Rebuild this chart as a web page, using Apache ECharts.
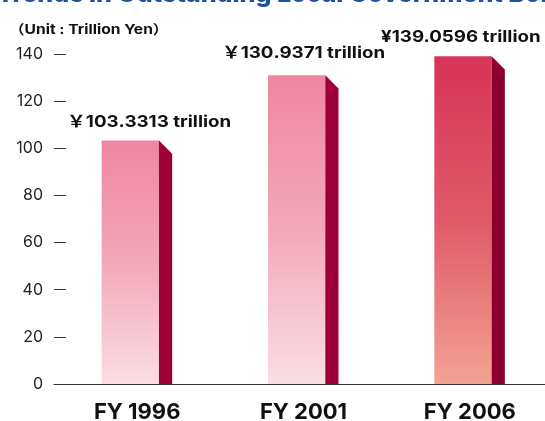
<!DOCTYPE html>
<html>
<head>
<meta charset="utf-8">
<script src="https://cdn.jsdelivr.net/npm/echarts@6/dist/echarts.min.js"></script>
<style>
  html, body { margin: 0; padding: 0; background: #fff; }
  #chart { width: 545px; height: 421px; }
</style>
</head>
<body>
<div id="chart"></div>
<script>
// 地方債残高の推移
var categories = ['FY 1996', 'FY 2001', 'FY 2006']
var values = [103.3313, 130.9371, 139.0596]
var yenSigns = ['￥', '￥', '¥']
var yTicks = [0, 20, 40, 60, 80, 100, 120, 140]
var titleText = 'Trends in Outstanding Local Government Bonds'
var unitText = '（Unit : Trillion Yen）'

var FONT = "Inter, 'Noto Sans CJK JP', sans-serif"

// bar look: front gradient + dark side face
var barStyles = [
  { top: '#ee86a1', mid: '#f3a8ba', bottom: '#fadde4', side: '#9c0036' },
  { top: '#ee86a1', mid: '#f3a8ba', bottom: '#fadde4', side: '#9c0036' },
  { top: '#d73459', mid: '#e05a68', bottom: '#f2a293', side: '#8c002f' }
]
// label centre offset from bar centre / bar top
var labelDx = [12, 0, -9]
var labelDy = [18, 22, 19]

var chart = echarts.init(document.getElementById('chart'))

var option = {
  animation: false,
  grid: {
    left: 54,
    top: 54,
    width: 499,
    height: 330,
    outerBoundsMode: 'none'
  },
  xAxis: {
    type: 'category',
    data: categories,
    axisLine: { lineStyle: { color: '#333', width: 1 } },
    axisTick: { inside: true, length: 8, lineStyle: { color: '#333' } },
    axisLabel: {
      margin: 17,
      fontSize: 22,
      fontWeight: 'bold',
      color: '#111',
      fontFamily: FONT
    }
  },
  yAxis: {
    type: 'value',
    min: yTicks[0],
    max: yTicks[yTicks.length - 1],
    interval: 20,
    splitLine: { show: false },
    axisLine: { show: false },
    axisTick: { show: true, inside: true, length: 12, lineStyle: { color: '#333' } },
    axisLabel: {
      margin: 11,
      fontSize: 16,
      color: '#222',
      fontFamily: FONT
    }
  },
  graphic: [
    {
      type: 'text',
      left: -3,
      top: -18,
      style: {
        text: titleText,
        font: '800 25px ' + FONT,
        fill: '#1b50a3'
      }
    },
    {
      type: 'text',
      x: 9,
      y: 30,
      scaleX: 1.2,
      style: {
        text: unitText,
        font: 'bold 13px ' + FONT,
        fill: '#111',
        verticalAlign: 'middle'
      }
    }
  ],
  series: [
    {
      type: 'custom',
      data: values.map(function (v, i) { return [i, v] }),
      renderItem: function (params, api) {
        var i = params.dataIndex
        var top = api.coord([api.value(0), api.value(1)])
        var base = api.coord([api.value(0), 0])
        var cx = top[0]
        var fl = cx - 35.5
        var fw = 57.3
        var sw = 13.2
        var st = barStyles[i]
        return {
          type: 'group',
          children: [
            {
              type: 'rect',
              shape: { x: fl, y: top[1], width: fw, height: base[1] - top[1] },
              style: {
                fill: new echarts.graphic.LinearGradient(0, 0, 0, 1, [
                  { offset: 0, color: st.top },
                  { offset: 0.5, color: st.mid },
                  { offset: 1, color: st.bottom }
                ])
              }
            },
            {
              type: 'polygon',
              shape: {
                points: [
                  [fl + fw, top[1]],
                  [fl + fw + sw, top[1] + sw],
                  [fl + fw + sw, base[1]],
                  [fl + fw, base[1]]
                ]
              },
              style: { fill: st.side }
            },
            {
              type: 'text',
              x: cx + labelDx[i],
              y: top[1] - labelDy[i],
              scaleX: 1.17,
              style: {
                text: yenSigns[i] + values[i].toFixed(4) + ' trillion',
                font: 'bold 16px ' + FONT,
                fill: '#111',
                align: 'center',
                verticalAlign: 'middle'
              }
            }
          ]
        }
      }
    }
  ]
}

chart.setOption(option)
</script>
</body>
</html>
